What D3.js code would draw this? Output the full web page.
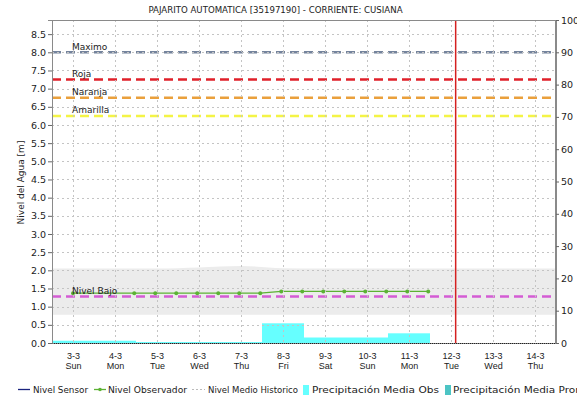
<!DOCTYPE html>
<html>
<head>
<meta charset="utf-8">
<script src="https://cdn.jsdelivr.net/npm/d3@7"></script>
<style>
  html, body { margin: 0; padding: 0; background: #fff; }
  svg { display: block; font-family: "DejaVu Sans", sans-serif; }
</style>
</head>
<body>
<svg id="chart" width="577" height="399"></svg>
<script>
// ---- data ----
const title = "PAJARITO AUTOMATICA [35197190] - CORRIENTE: CUSIANA";
const dayDates = ["2024-03-03","2024-03-04","2024-03-05","2024-03-06","2024-03-07","2024-03-08",
                  "2024-03-09","2024-03-10","2024-03-11","2024-03-12","2024-03-13","2024-03-14"];
const dayLabels = ["3-3","4-3","5-3","6-3","7-3","8-3","9-3","10-3","11-3","12-3","13-3","14-3"];
const weekdayLabels = ["Sun","Mon","Tue","Wed","Thu","Fri","Sat","Sun","Mon","Tue","Wed","Thu"];
const levelTicks = [0,0.5,1,1.5,2,2.5,3,3.5,4,4.5,5,5.5,6,6.5,7,7.5,8,8.5];
const precipTicks = [0,10,20,30,40,50,60,70,80,90,100];

// observer readings (m)
const obsTimes = ["2024-03-03T00:00","2024-03-04T11:00","2024-03-04T23:00","2024-03-05T11:00",
                  "2024-03-05T23:00","2024-03-06T11:00","2024-03-06T23:00","2024-03-07T11:00",
                  "2024-03-07T23:00","2024-03-08T11:00","2024-03-08T23:00","2024-03-09T11:00",
                  "2024-03-09T23:00","2024-03-10T11:00","2024-03-10T23:00","2024-03-11T11:00"];
const obsLevels = [1.37,1.37,1.37,1.37,1.37,1.37,1.37,1.37,
                   1.42,1.42,1.42,1.42,1.42,1.42,1.42,1.42];

// daily mean observed precipitation (mm)
const precipDays = ["2024-03-03","2024-03-04","2024-03-05","2024-03-06","2024-03-07",
                    "2024-03-08","2024-03-09","2024-03-10","2024-03-11"];
const precipObs = [0.7,0.7,0.3,0.3,0.3,6.1,1.7,1.7,3.0];

// historic band (m), per day
const histUpper = [2.05,2.05,2.05,2.08,2.12,2.06,2.05,2.05,2.05,2.05,2.05,2.05];
const histLower = [0.78,0.78,0.78,0.78,0.78,0.78,0.78,0.78,0.78,0.78,0.78,0.78];

// alert thresholds (m)
const thresholdNames = ["Maximo","Roja","Naranja","Amarilla","Nivel Bajo"];
const thresholdValues = [8.0,7.25,6.75,6.25,1.28];
const thresholdColors = ["#74839c","#e0202a","#eaa03c","#f4f446","#d45cd4"];

// legend entries
const legendNames = ["Nivel Sensor","Nivel Observador","Nivel Medio Historico",
                     "Precipitación Media Obs","Precipitación Media Pronóstico"];

const nowTime = "2024-03-12T02:40";
const levelMax = 8.0 / 0.9;   // left axis top, so that "Maximo" sits at 90 on the right axis

// ---- layout ----
const svg = d3.select("#chart");
const pL = 52, pR = 556, pT = 20, pB = 343;
const parse = d3.isoParse;
const hour = 3600 * 1000;

const x = d3.scaleTime()
  .domain([new Date(parse(dayDates[0]) - 12 * hour), new Date(+parse(dayDates[dayDates.length - 1]) + 12 * hour)])
  .range([pL, pR]);
const y = d3.scaleLinear().domain([0, levelMax]).range([pB, pT]);
const yR = d3.scaleLinear().domain([0, 100]).range([pB, pT]);

svg.append("defs").append("clipPath").attr("id", "plot")
  .append("rect").attr("x", pL).attr("y", pT).attr("width", pR - pL).attr("height", pB - pT);
const plot = svg.append("g").attr("clip-path", "url(#plot)");

// historic band
const bandPts = dayDates.map((d, i) => ({ t: parse(d), hi: histUpper[i], lo: histLower[i] }));
const firstPt = bandPts[0], lastPt = bandPts[bandPts.length - 1];
const bandData = [{ t: x.domain()[0], hi: firstPt.hi, lo: firstPt.lo }, ...bandPts,
                  { t: x.domain()[1], hi: lastPt.hi, lo: lastPt.lo }];
plot.append("path")
  .datum(bandData)
  .attr("fill", "#ececec")
  .attr("d", d3.area().x(d => x(d.t)).y0(d => y(d.lo)).y1(d => y(d.hi)).curve(d3.curveMonotoneX));

// grid
const grid = svg.append("g");
grid.selectAll("line.h").data(levelTicks.filter(v => v > 0)).join("line")
  .attr("x1", pL).attr("x2", pR)
  .attr("y1", d => Math.round(y(d)) + 0.5).attr("y2", d => Math.round(y(d)) + 0.5)
  .attr("stroke", "#c4c4c4").attr("stroke-dasharray", "2,3");
grid.selectAll("line.v").data(dayDates).join("line")
  .attr("x1", d => Math.round(x(parse(d))) + 0.5).attr("x2", d => Math.round(x(parse(d))) + 0.5)
  .attr("y1", pT).attr("y2", pB)
  .attr("stroke", "#c4c4c4").attr("stroke-dasharray", "2,3");

// precipitation bars
plot.selectAll("rect.precip").data(precipDays).join("rect")
  .attr("x", d => x(new Date(parse(d) - 12 * hour)))
  .attr("width", d => x(new Date(+parse(d) + 12 * hour)) - x(new Date(parse(d) - 12 * hour)))
  .attr("y", (d, i) => yR(precipObs[i]))
  .attr("height", (d, i) => pB - yR(precipObs[i]))
  .attr("fill", "#66ffff");

// thresholds
thresholdValues.forEach((v, i) => {
  plot.append("line")
    .attr("x1", pL).attr("x2", pR)
    .attr("y1", y(v)).attr("y2", y(v))
    .attr("stroke", thresholdColors[i]).attr("stroke-width", 2.5)
    .attr("stroke-dasharray", "9,5");
});

// observer level
const obs = obsTimes.map((t, i) => ({ t: parse(t), v: obsLevels[i] }));
plot.append("path").datum(obs)
  .attr("fill", "none").attr("stroke", "#5cb234").attr("stroke-width", 1.3)
  .attr("d", d3.line().x(d => x(d.t)).y(d => y(d.v)));
plot.selectAll("circle.obs").data(obs).join("circle")
  .attr("cx", d => x(d.t)).attr("cy", d => y(d.v)).attr("r", 2)
  .attr("fill", "#5cb234");

// threshold labels
thresholdValues.forEach((v, i) => {
  svg.append("text")
    .attr("x", x(parse(dayDates[0])) - 1).attr("y", y(v) - 2.5)
    .attr("font-size", 9).attr("fill", "#222")
    .text(thresholdNames[i]);
});

// current time marker
plot.append("line")
  .attr("x1", x(parse(nowTime))).attr("x2", x(parse(nowTime)))
  .attr("y1", pT).attr("y2", pB)
  .attr("stroke", "#d42020").attr("stroke-width", 1.5);

// frame
svg.append("rect").attr("x", pL + 0.5).attr("y", pT + 0.5)
  .attr("width", pR - pL - 1).attr("height", pB - pT)
  .attr("fill", "none").attr("stroke", "#8a8a8a");
svg.append("line").attr("x1", pL).attr("x2", pR)
  .attr("y1", pB + 0.5).attr("y2", pB + 0.5)
  .attr("stroke", "#222").attr("stroke-dasharray", "1,1");

// axes
const yAxis = svg.append("g").attr("transform", `translate(${pL},0)`)
  .call(d3.axisLeft(y).tickValues(levelTicks).tickFormat(d3.format(".1f")).tickSize(4).tickPadding(2));
const yAxisR = svg.append("g").attr("transform", `translate(${pR},0)`)
  .call(d3.axisRight(yR).tickValues(precipTicks).tickFormat(d3.format("d")).tickSize(3).tickPadding(2));
[yAxis, yAxisR].forEach(g => {
  g.select(".domain").attr("stroke", "#8a8a8a");
  g.selectAll(".tick line").attr("stroke", "#666");
  g.selectAll(".tick text").attr("font-family", "DejaVu Sans").attr("font-size", 9.5).attr("fill", "#222");
});

const xAxis = svg.append("g").attr("transform", `translate(0,${pB})`)
  .call(d3.axisBottom(x).tickValues(dayDates.map(parse)).tickSize(0).tickFormat(() => ""));
xAxis.select(".domain").remove();
xAxis.selectAll(".tick text").remove();
xAxis.selectAll(".tick").each(function(d, i) {
  const g = d3.select(this);
  g.append("text").attr("y", 16).attr("text-anchor", "middle")
    .attr("font-size", 9).attr("fill", "#222").text(dayLabels[i]);
  g.append("text").attr("y", 25.5).attr("text-anchor", "middle")
    .attr("font-size", 9).attr("fill", "#222").text(weekdayLabels[i]);
});

// titles
svg.append("text").attr("x", 275.5).attr("y", 13).attr("text-anchor", "middle")
  .attr("font-size", 8.6).attr("fill", "#222").text(title);
svg.append("text")
  .attr("transform", `translate(24,${(pT + pB) / 2 + 1}) rotate(-90)`)
  .attr("text-anchor", "middle").attr("font-size", 9).attr("fill", "#222")
  .text("Nivel del Agua [m]");

// legend
const lg = svg.append("g").attr("transform", "translate(0,390)");
const legendText = (i, xPos, width) => {
  const t = lg.append("text").attr("x", xPos).attr("y", 3.3)
    .attr("font-size", 9.2).attr("fill", "#222").text(legendNames[i]);
  if (width) t.attr("textLength", width).attr("lengthAdjust", "spacingAndGlyphs");
};
lg.append("line").attr("x1", 18).attr("x2", 30).attr("y1", -0.5).attr("y2", -0.5)
  .attr("stroke", "#1a237e").attr("stroke-width", 1.3);
legendText(0, 33, 55);
lg.append("line").attr("x1", 94).attr("x2", 106).attr("y1", -0.5).attr("y2", -0.5)
  .attr("stroke", "#5cb234").attr("stroke-width", 1.3);
lg.append("circle").attr("cx", 100).attr("cy", -0.5).attr("r", 1.8).attr("fill", "#5cb234");
legendText(1, 108, 79);
lg.append("line").attr("x1", 192).attr("x2", 205).attr("y1", -0.5).attr("y2", -0.5)
  .attr("stroke", "#bbb").attr("stroke-dasharray", "2,2");
legendText(2, 208, 90);
lg.append("rect").attr("x", 303).attr("y", -5).attr("width", 6).attr("height", 10).attr("fill", "#66ffff");
legendText(3, 312, 127);
lg.append("rect").attr("x", 445).attr("y", -5).attr("width", 6).attr("height", 10).attr("fill", "#4cc4c4");
legendText(4, 453, 160);
</script>
</body>
</html>
